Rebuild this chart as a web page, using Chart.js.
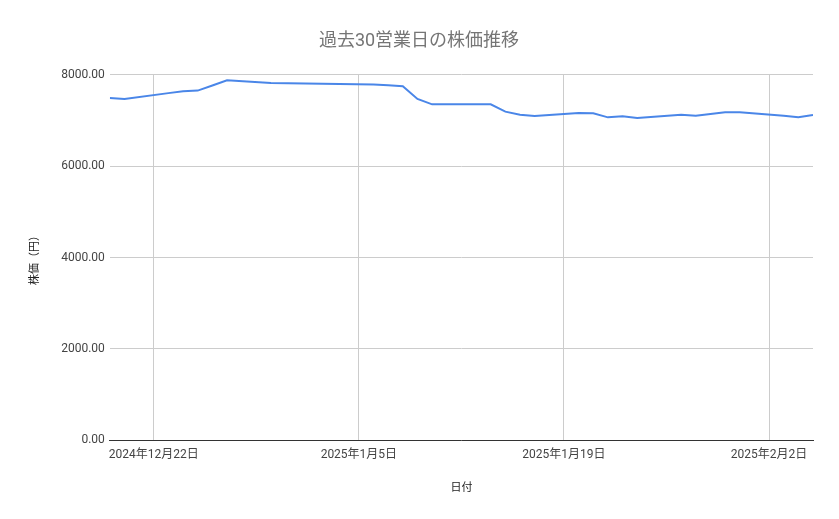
<!DOCTYPE html>
<html lang="ja">
<head>
    <meta charset="UTF-8">
    <title>過去30営業日の株価推移</title>
    <style>
        body {
            margin: 0;
            padding: 0;
            background-color: #fff;
        }
        .chart-box {
            width: 839px;
            height: 519px;
        }
    </style>
</head>
<body>
    <div class="chart-box">
        <canvas id="priceChart"></canvas>
    </div>
    <script src="https://cdn.jsdelivr.net/npm/chart.js@4.4.1/dist/chart.umd.min.js"></script>
    <script>
        // 営業日と終値
        const dates = [
            '2024-12-19', '2024-12-20', '2024-12-23', '2024-12-24', '2024-12-25',
            '2024-12-26', '2024-12-27', '2024-12-30', '2025-01-06', '2025-01-07',
            '2025-01-08', '2025-01-09', '2025-01-10', '2025-01-14', '2025-01-15',
            '2025-01-16', '2025-01-17', '2025-01-20', '2025-01-21', '2025-01-22',
            '2025-01-23', '2025-01-24', '2025-01-27', '2025-01-28', '2025-01-29',
            '2025-01-30', '2025-01-31', '2025-02-03', '2025-02-04', '2025-02-05'
        ];
        const prices = [
            7490, 7468, 7595, 7635, 7650,
            7763, 7876, 7819, 7782, 7765,
            7745, 7468, 7350, 7350, 7190,
            7124, 7095, 7161, 7153, 7065,
            7087, 7052, 7124, 7102, 7139,
            7175, 7175, 7102, 7065, 7117
        ];
        const tickDates = ['2024-12-22', '2025-01-05', '2025-01-19', '2025-02-02'];
        const yTicks = [0, 2000, 4000, 6000, 8000];

        const startDay = '2024-12-19';
        const endDay = '2025-02-05';
        const dayMs = 24 * 60 * 60 * 1000;
        const toDay = (s) => Math.round((Date.parse(s) - Date.parse(startDay)) / dayMs);

        const tickLabel = (s) => {
            const [y, m, d] = s.split('-').map(Number);
            return `${y}年${m}月${d}日`;
        };

        const fontFamily = "Roboto, 'Noto Sans CJK JP', sans-serif";

        const ctx = document.getElementById('priceChart').getContext('2d');
        new Chart(ctx, {
            type: 'line',
            data: {
                datasets: [{
                    label: '株価（円）',
                    data: dates.map((d, i) => ({ x: toDay(d), y: prices[i] })),
                    borderColor: '#4a86e8',
                    borderWidth: 2,
                    pointRadius: 0,
                    fill: false,
                    tension: 0
                }]
            },
            options: {
                responsive: true,
                maintainAspectRatio: false,
                animation: false,
                layout: {
                    padding: { left: 25, right: 26, top: 10, bottom: 20 }
                },
                plugins: {
                    legend: { display: false },
                    tooltip: { enabled: false },
                    title: {
                        display: true,
                        text: '過去30営業日の株価推移',
                        color: '#757575',
                        font: { family: fontFamily, size: 18, weight: 'normal' },
                        padding: { top: 21, bottom: 22 }
                    }
                },
                scales: {
                    x: {
                        type: 'linear',
                        min: toDay(startDay),
                        max: toDay(endDay),
                        afterBuildTicks: (axis) => {
                            axis.ticks = tickDates.map(d => ({ value: toDay(d) }));
                        },
                        ticks: {
                            autoSkip: false,
                            maxRotation: 0,
                            color: '#444',
                            font: { family: fontFamily, size: 12 },
                            padding: 7,
                            callback: (value) => {
                                const hit = tickDates.find(d => toDay(d) === value);
                                return hit ? tickLabel(hit) : '';
                            }
                        },
                        grid: {
                            color: '#cccccc',
                            drawTicks: false
                        },
                        border: { display: true, color: '#333', width: 1 },
                        title: {
                            display: true,
                            text: '日付',
                            color: '#222',
                            font: { family: fontFamily, size: 11 },
                            padding: { top: 13 }
                        }
                    },
                    y: {
                        min: 0,
                        max: 8000,
                        afterBuildTicks: (axis) => {
                            axis.ticks = yTicks.map(v => ({ value: v }));
                        },
                        ticks: {
                            color: '#444',
                            font: { family: fontFamily, size: 12 },
                            padding: 5,
                            callback: (value) => value.toFixed(2)
                        },
                        grid: {
                            color: '#cccccc',
                            drawTicks: false
                        },
                        border: { display: false },
                        title: {
                            display: true,
                            text: '株価（円）',
                            color: '#222',
                            font: { family: fontFamily, size: 11 },
                            padding: { bottom: 14 }
                        }
                    }
                }
            }
        });
    </script>
</body>
</html>
